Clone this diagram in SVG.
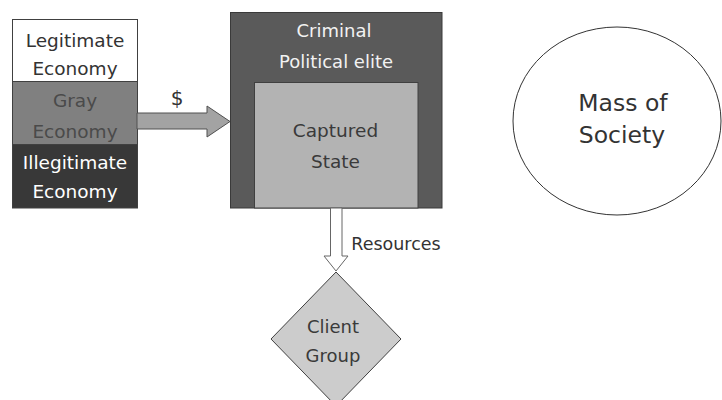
<svg xmlns="http://www.w3.org/2000/svg" width="722" height="400" viewBox="0 0 722 400">
<style>
text{font-family:"DejaVu Sans","Liberation Sans",sans-serif;text-anchor:middle}
.b{stroke:#404040;stroke-width:1}
</style>
<rect width="722" height="400" fill="#fff"/>
<g id="economy">
<g id="legit"><rect class="b" x="12.5" y="19.5" width="125" height="62" fill="#fff"/>
<text x="75" y="46.5" font-size="18.5" fill="#333">Legitimate</text>
<text x="75" y="75" font-size="18.5" fill="#333">Economy</text></g>
<g id="gray"><rect class="b" x="12.5" y="81.5" width="125" height="63" fill="#808080"/>
<text x="75" y="106.5" font-size="18.5" fill="#4a4a4a">Gray</text>
<text x="75" y="138" font-size="18.5" fill="#4a4a4a">Economy</text></g>
<g id="illegit"><rect class="b" x="12.5" y="144.5" width="125" height="63.5" fill="#383838"/>
<text x="75" y="169" font-size="18.5" fill="#fff">Illegitimate</text>
<text x="75" y="198" font-size="18.5" fill="#fff">Economy</text></g>
</g>
<g id="elite"><rect x="230.5" y="12.5" width="211.5" height="195.5" fill="#5a5a5a" stroke="#3a3a3a"/>
<text x="334" y="36.5" font-size="18" fill="#f2f2f2">Criminal</text>
<text x="336" y="67.5" font-size="18" fill="#f2f2f2">Political elite</text></g>
<g id="state"><rect x="254.5" y="82.5" width="163.5" height="125.5" fill="#b3b3b3" stroke="#404040"/>
<text x="335.5" y="137" font-size="18.5" fill="#3a3a3a">Captured</text>
<text x="335.5" y="168" font-size="18.5" fill="#3a3a3a">State</text></g>
<g id="mass"><ellipse cx="617" cy="121" rx="104" ry="94" fill="#fff" stroke="#333" stroke-width="1"/>
<text x="623" y="111" font-size="23.5" fill="#333">Mass of</text>
<text x="622" y="143" font-size="23.5" fill="#333">Society</text></g>
<g id="client"><polygon points="336,272 401,339 336,406 271,339" fill="#cccccc" stroke="#404040"/>
<text x="333" y="332.5" font-size="18" fill="#3a3a3a">Client</text>
<text x="333" y="361.5" font-size="18" fill="#3a3a3a">Group</text></g>
<g id="connectors">
<polygon points="137,113 207,113 207,106 230,121.5 207,137 207,129 137,129" fill="#a3a3a3" stroke="#505050"/>
<text x="177" y="105" font-size="20" fill="#333">$</text>
<polygon points="330.5,208 342,208 342,256 348,256 336,271 324,256 330.5,256" fill="#fff" stroke="#666"/>
<text x="396" y="250" font-size="17.5" fill="#333">Resources</text>
</g>
</svg>
